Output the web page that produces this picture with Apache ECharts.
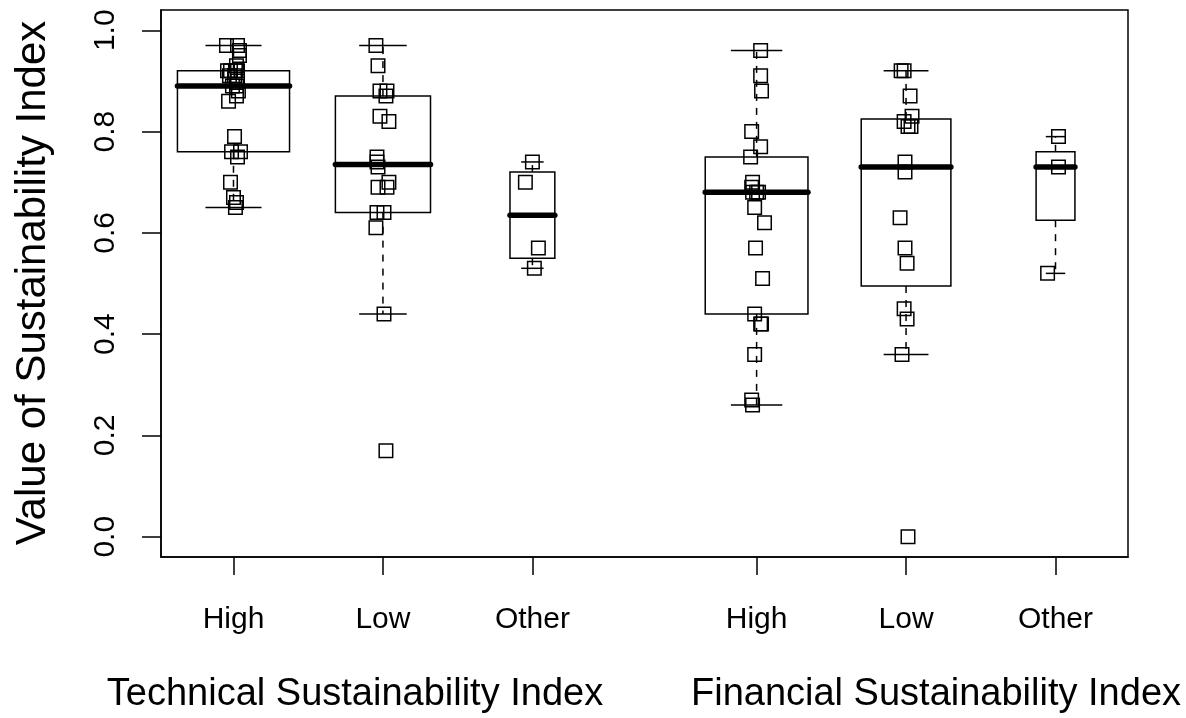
<!DOCTYPE html>
<html>
<head>
<meta charset="utf-8">
<script src="https://cdn.jsdelivr.net/npm/echarts@6/dist/echarts.min.js"></script>
<style>
html,body{margin:0;padding:0;background:#ffffff;}
#chart{width:1186px;height:718px;}
</style>
</head>
<body>
<div id="chart"></div>
<script>
// ---------- data ----------
const categories = ['High', 'Low', 'Other', 'High', 'Low', 'Other'];
const groupTitles = ['Technical Sustainability Index', 'Financial Sustainability Index'];
const groupPositions = [1, 2, 3, 4.5, 5.5, 6.5];
const yTicks = [0, 0.2, 0.4, 0.6, 0.8, 1.0];

// box statistics: [lower whisker, Q1, median, Q3, upper whisker]
const techHighBox  = [0.65, 0.76, 0.89, 0.92, 0.97];
const techLowBox   = [0.44, 0.64, 0.735, 0.87, 0.97];
const techOtherBox = [0.53, 0.55, 0.635, 0.72, 0.74];
const finHighBox   = [0.26, 0.44, 0.68, 0.75, 0.96];
const finLowBox    = [0.36, 0.495, 0.73, 0.825, 0.92];
const finOtherBox  = [0.52, 0.625, 0.73, 0.76, 0.79];

// individual observations and their horizontal jitter (axis units), as drawn
const techHighValues  = [0.97, 0.97, 0.96, 0.95, 0.93, 0.92, 0.92, 0.92, 0.92, 0.91, 0.91, 0.90, 0.89, 0.89, 0.88, 0.87, 0.86, 0.79, 0.76, 0.76, 0.75, 0.70, 0.67, 0.66, 0.65];
const techHighJitter  = [-0.047, 0.027, 0.040, 0.040, 0.020, -0.040, -0.020, 0.013, 0.027, -0.027, 0.007, 0.027, -0.007, 0.020, 0.033, 0.020, -0.033, 0.007, -0.013, 0.047, 0.027, -0.020, 0, 0.020, 0.013];
const techLowValues   = [0.97, 0.93, 0.88, 0.88, 0.87, 0.83, 0.82, 0.75, 0.74, 0.73, 0.70, 0.69, 0.69, 0.64, 0.64, 0.61, 0.44, 0.17];
const techLowJitter   = [-0.047, -0.033, -0.020, 0.027, 0.020, -0.020, 0.040, -0.040, -0.040, -0.033, 0.040, 0.027, -0.033, -0.040, 0.007, -0.047, 0.007, 0.020];
const techOtherValues = [0.74, 0.70, 0.57, 0.53];
const techOtherJitter = [0, -0.047, 0.040, 0.013];
const finHighValues   = [0.96, 0.91, 0.88, 0.80, 0.77, 0.75, 0.70, 0.69, 0.68, 0.68, 0.68, 0.65, 0.62, 0.57, 0.51, 0.44, 0.42, 0.42, 0.36, 0.27, 0.26];
const finHighJitter   = [0.027, 0.027, 0.033, -0.033, 0.027, -0.040, -0.027, -0.033, 0, 0.013, -0.027, -0.013, 0.053, -0.007, 0.040, -0.013, 0.027, 0.033, -0.013, -0.033, -0.027];
const finLowValues    = [0.92, 0.92, 0.87, 0.83, 0.82, 0.81, 0.81, 0.74, 0.72, 0.63, 0.57, 0.54, 0.45, 0.43, 0.36, 0.00];
const finLowJitter    = [-0.033, -0.013, 0.027, 0.040, -0.013, 0.013, 0.033, -0.007, -0.007, -0.040, -0.007, 0.007, -0.013, 0.007, -0.027, 0.013];
const finOtherValues  = [0.79, 0.73, 0.52];
const finOtherJitter  = [0.020, 0.020, -0.053];

// ---------- build library structures ----------
const boxes = [techHighBox, techLowBox, techOtherBox, finHighBox, finLowBox, finOtherBox];
const valueSets = [techHighValues, techLowValues, techOtherValues, finHighValues, finLowValues, finOtherValues];
const jitterSets = [techHighJitter, techLowJitter, techOtherJitter, finHighJitter, finLowJitter, finOtherJitter];

const maxN = Math.max.apply(null, valueSets.map(v => v.length));
const BOX_SCALE = 0.75; // width of the widest box in axis units (varwidth: ~ sqrt(n))

const boxData = boxes.map((b, i) => [groupPositions[i], b[0], b[1], b[2], b[3], b[4],
  BOX_SCALE * Math.sqrt(valueSets[i].length / maxN)]);

const pointData = [];
valueSets.forEach((vals, i) => {
  vals.forEach((v, j) => pointData.push([groupPositions[i] + jitterSets[i][j], v]));
});

const FONT = "'Liberation Sans', Arial, Helvetica, sans-serif";
const BLACK = '#000000';

const chart = echarts.init(document.getElementById('chart'), null, {renderer: 'canvas'});

chart.setOption({
  animation: false,
  backgroundColor: '#ffffff',
  grid: {
    left: 161, right: 58, top: 10, bottom: 161,
    show: true, borderColor: BLACK, borderWidth: 1.5,
    containLabel: false, outerBoundsMode: 'none'
  },
  xAxis: {
    type: 'value', min: 0.515, max: 6.985, position: 'bottom',
    splitLine: {show: false},
    axisLine: {show: true, onZero: false, lineStyle: {color: BLACK, width: 1.5}},
    axisTick: {show: true, customValues: groupPositions, length: 18, lineStyle: {color: BLACK, width: 1.5}},
    axisLabel: {
      show: true, customValues: groupPositions, margin: 48,
      fontSize: 30, fontFamily: FONT, color: BLACK,
      formatter: function (v) {
        const k = groupPositions.findIndex(p => Math.abs(p - v) < 1e-6);
        return k >= 0 ? categories[k] : '';
      }
    }
  },
  yAxis: {
    type: 'value', min: -0.04, max: 1.04, position: 'left',
    splitLine: {show: false},
    axisLine: {show: true, onZero: false, lineStyle: {color: BLACK, width: 1.5}},
    axisTick: {show: true, customValues: yTicks, length: 19, lineStyle: {color: BLACK, width: 1.5}},
    axisLabel: {
      show: true, customValues: yTicks, rotate: 90, margin: 40,
      fontSize: 30, fontFamily: FONT, color: BLACK,
      formatter: function (v) { return v.toFixed(1); }
    }
  },
  graphic: [
    {type: 'text', x: 33, y: 283, rotation: Math.PI / 2, silent: true,
      style: {text: 'Value of Sustainability Index', fontSize: 42, fontFamily: FONT, fill: BLACK, align: 'center', verticalAlign: 'middle'}},
    {type: 'text', x: 355, y: 695, silent: true,
      style: {text: groupTitles[0], fontSize: 38, fontFamily: FONT, fill: BLACK, align: 'center', verticalAlign: 'middle'}},
    {type: 'text', x: 936, y: 695, silent: true,
      style: {text: groupTitles[1], fontSize: 38, fontFamily: FONT, fill: BLACK, align: 'center', verticalAlign: 'middle'}}
  ],
  series: [
    {
      type: 'custom',
      data: boxData,
      encode: {x: 0, y: [1, 2, 3, 4, 5]},
      z: 2,
      renderItem: function (params, api) {
        const x = api.value(0);
        const lw = api.value(1), q1 = api.value(2), med = api.value(3), q3 = api.value(4), uw = api.value(5);
        const w = api.value(6);
        const halfW = api.size([w, 0])[0] / 2;
        const pLw = api.coord([x, lw]);
        const pQ1 = api.coord([x, q1]);
        const pMed = api.coord([x, med]);
        const pQ3 = api.coord([x, q3]);
        const pUw = api.coord([x, uw]);
        const cx = pMed[0];
        const dashStyle = {stroke: BLACK, lineWidth: 1.5, lineDash: [7, 7], fill: null};
        const solid = {stroke: BLACK, lineWidth: 1.5, fill: null};
        return {
          type: 'group',
          children: [
            {type: 'line', shape: {x1: cx, y1: pQ3[1], x2: cx, y2: pUw[1]}, style: dashStyle},
            {type: 'line', shape: {x1: cx, y1: pQ1[1], x2: cx, y2: pLw[1]}, style: dashStyle},
            {type: 'line', shape: {x1: cx - halfW / 2, y1: pUw[1], x2: cx + halfW / 2, y2: pUw[1]}, style: solid},
            {type: 'line', shape: {x1: cx - halfW / 2, y1: pLw[1], x2: cx + halfW / 2, y2: pLw[1]}, style: solid},
            {type: 'rect', shape: {x: cx - halfW, y: pQ3[1], width: 2 * halfW, height: pQ1[1] - pQ3[1]},
              style: {stroke: BLACK, lineWidth: 1.5, fill: 'rgba(0,0,0,0)'}},
            {type: 'line', shape: {x1: cx - halfW, y1: pMed[1], x2: cx + halfW, y2: pMed[1]},
              style: {stroke: BLACK, lineWidth: 5.5, lineCap: 'round', fill: null}}
          ]
        };
      }
    },
    {
      type: 'scatter',
      data: pointData,
      symbol: 'rect',
      symbolSize: 13.5,
      z: 3,
      itemStyle: {color: 'rgba(0,0,0,0)', borderColor: BLACK, borderWidth: 1.5, opacity: 1},
      emphasis: {disabled: true}
    }
  ]
});
</script>
</body>
</html>
